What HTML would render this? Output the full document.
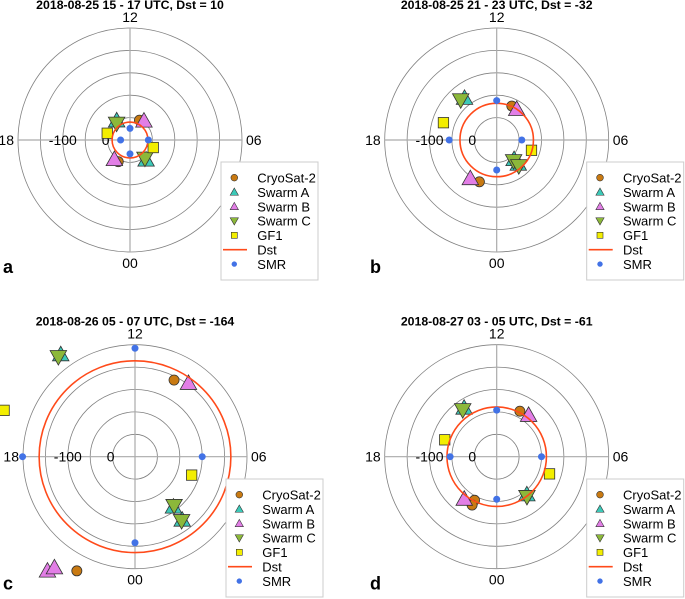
<!DOCTYPE html>
<html><head><meta charset="utf-8">
<style>
html,body{margin:0;padding:0;background:#fff;}
svg{display:block;font-family:"Liberation Sans",sans-serif;}
</style></head>
<body>
<svg id="fig" width="685" height="599" viewBox="0 0 685 599" xmlns="http://www.w3.org/2000/svg"></svg>
<script>
// ---- Data: each entry [MLT hour, value nT] ----
const panelTitles = ["2018-08-25 15 - 17 UTC, Dst = 10","2018-08-25 21 - 23 UTC, Dst = -32","2018-08-26 05 - 07 UTC, Dst = -164","2018-08-27 03 - 05 UTC, Dst = -61"];
const panelLetters = ["a","b","c","d"];
const dstValues = [10, -32, -164, -61];
const legendLabels = ["CryoSat-2","Swarm A","Swarm B","Swarm C","GF1","Dst","SMR"];
const mltTickLabels = ["12","06","00","18"];
const ringValueLabels = ["0","-100"];

const cryosatA = [[10.3,1],[22.1,-5]];
const swarmAA = [[14.3,-2.5],[2.6,-7]];
const swarmBA = [[9.6,-3],[21.4,-5.5]];
const swarmCA = [[14.6,2.5],[2.6,-3]];
const gf1A = [[16.9,-3],[4.8,-4.5]];
const smrA = [[12,24],[18,29],[6,9],[0,19]];

const cryosatB = [[10.4,-33],[22.5,-51]];
const swarmAB = [[14.5,-68],[2.8,-8],[2.8,-22]];
const swarmBB = [[9.8,-32],[21.7,-54]];
const swarmCB = [[14.8,-70],[2.6,-10],[2.7,-26]];
const gf1B = [[16.8,-75],[4.9,-31]];
const smrB = [[12,-38],[18,-56],[6,-6],[0,-17]];

const cryosatC = [[10.2,-142],[22.2,-236]];
const swarmAC = [[14.4,-232],[2.5,-91],[2.45,-126]];
const swarmBC = [[9.6,-153],[21.5,-271],[21.6,-256]];
const swarmCC = [[14.5,-231],[2.57,-90],[2.4,-127]];
const gf1C = [[16.7,-260],[4.8,-83]];
const smrC = [[12,-192],[18,-201],[6,-100],[0,-142]];

const cryosatD = [[10.2,-64],[22.2,-59],[22.2,-71]];
const swarmAD = [[14.25,-81],[2.57,-58]];
const swarmBD = [[9.5,-67],[21.5,-69]];
const swarmCD = [[14.4,-79],[2.47,-62]];
const gf1D = [[16.8,-72],[4.8,-74]];
const smrD = [[12,-54],[18,-54],[6,-50],[0,-45]];

const panelSeries = [
  [cryosatA,swarmAA,swarmBA,swarmCA,gf1A,smrA],
  [cryosatB,swarmAB,swarmBB,swarmCB,gf1B,smrB],
  [cryosatC,swarmAC,swarmBC,swarmCC,gf1C,smrC],
  [cryosatD,swarmAD,swarmBD,swarmCD,gf1D,smrD]
];

// ---- Layout ----
const centers = [[130,140],[496.7,140],[135,456.7],[496.7,456.7]];
const legendPos = [[221,162],[586.7,162],[226,479],[586.7,479]];
const ringStep = 22.4; // px per 50 nT
const colors = {cryo:"#c97a12",a:"#3cc9b8",b:"#e27ee6",c:"#8cb83a",gf:"#f3ee00",dst:"#ff4a1a",smr:"#4272e6"};
const NS="http://www.w3.org/2000/svg";
const svg=document.getElementById("fig");
function el(tag,attrs,parent){const e=document.createElementNS(NS,tag);for(const k in attrs)e.setAttribute(k,attrs[k]);(parent||svg).appendChild(e);return e;}
function rScale(v){return (50-v)/50*ringStep;}
function pos(cx,cy,mlt,v){const r=rScale(v);const phi=(12-mlt)*15*Math.PI/180;return [cx+r*Math.sin(phi),cy-r*Math.cos(phi)];}
function marker(g,type,x,y,s,sw){
  sw=sw||0.8;
  let m;
  if(type==="cryo"){m=el("circle",{cx:x,cy:y,r:s*0.42,fill:colors.cryo,stroke:"#333","stroke-width":sw},g);}
  else if(type==="a"||type==="b"){const c=colors[type];m=el("polygon",{points:`${x},${y-s*0.55} ${x+s*0.55},${y+s*0.42} ${x-s*0.55},${y+s*0.42}`,fill:c,stroke:"#333","stroke-width":sw},g);}
  else if(type==="c"){m=el("polygon",{points:`${x},${y+s*0.55} ${x+s*0.55},${y-s*0.42} ${x-s*0.55},${y-s*0.42}`,fill:colors.c,stroke:"#333","stroke-width":sw},g);}
  else if(type==="gf"){m=el("rect",{x:x-s*0.4,y:y-s*0.4,width:s*0.8,height:s*0.8,fill:colors.gf,stroke:"#333","stroke-width":sw},g);}
  else {m=el("circle",{cx:x,cy:y,r:s*0.27,fill:colors.smr},g);}
  return m;
}
const types=["cryo","a","b","c","gf"];
const typeNames=["cryosat-2","swarm-a","swarm-b","swarm-c","gf1"];
const legendSizes=[8,7.5,7.5,7.5,7.5];

for(let p=0;p<4;p++){
  const [cx,cy]=centers[p];
  const g=el("g",{});
  
  
  for(let i=1;i<=5;i++){
    const ring=el("circle",{cx:cx,cy:cy,r:i*ringStep,fill:"none",stroke:"#808080","stroke-width":0.8},g);
    
    
  }
  const R=5*ringStep;
  const ax1=el("line",{x1:cx-R,y1:cy,x2:cx+R,y2:cy,stroke:"#aaa","stroke-width":1.2},g);
  
  
  const ax2=el("line",{x1:cx,y1:cy-R,x2:cx,y2:cy+R,stroke:"#aaa","stroke-width":1.2},g);
  
  
  const t12=el("text",{x:cx,y:cy-R-6,"font-size":14,"text-anchor":"middle"},g);t12.textContent=mltTickLabels[0];
  
  
  const t06=el("text",{x:cx+R+4,y:cy+5,"font-size":14,"text-anchor":"start"},g);t06.textContent=mltTickLabels[1];
  
  
  const t00=el("text",{x:cx,y:cy+R+16,"font-size":14,"text-anchor":"middle"},g);t00.textContent=mltTickLabels[2];
  
  
  const t18=el("text",{x:cx-R-4,y:cy+5,"font-size":14,"text-anchor":"end"},g);t18.textContent=mltTickLabels[3];
  
  
  const r0=el("text",{x:cx-rScale(0)-2,y:cy+5,"font-size":14,"text-anchor":"middle"},g);r0.textContent=ringValueLabels[0];
  
  
  const r100=el("text",{x:cx-rScale(-100),y:cy+5,"font-size":14,"text-anchor":"middle"},g);r100.textContent=ringValueLabels[1];
  
  
  const tt=el("text",{x:cx,y:cy-131,"font-size":12.3,"font-weight":"bold","text-anchor":"middle"},g);tt.textContent=panelTitles[p];
  
  
  const lt=el("text",{x:p%2===0?3:370,y:cy+133,"font-size":18,"font-weight":"bold"},g);lt.textContent=panelLetters[p];
  
  
  const ser=panelSeries[p];
  for(let s=0;s<5;s++){
    for(const [mlt,v] of ser[s]){
      const [x,y]=pos(cx,cy,mlt,v);
      const m=marker(g,types[s],x,y,types[s]==="cryo"?12:(types[s]==="gf"?13:15));
      
      
    }
  }
  const dc=el("circle",{cx:cx,cy:cy,r:rScale(dstValues[p]),fill:"none",stroke:colors.dst,"stroke-width":1.6},g);
  
  
  for(const [mlt,v] of ser[5]){
    const [x,y]=pos(cx,cy,mlt,v);
    const m=marker(g,"smr",x,y,13);
    
    
  }
  const [lx,ly]=legendPos[p];
  const lg=el("g",{},g);
  
  
  el("rect",{x:lx,y:ly,width:Math.min(97,685-lx-0.5),height:118,fill:"#fff",stroke:"#ccc","stroke-width":1},lg);
  for(let i=0;i<7;i++){
    const yy=ly+15.7+i*14.4;
    const eg=el("g",{},lg);
    
    
    if(i<5) marker(eg,types[i],lx+13.3,yy,legendSizes[i],0.6);
    else if(i===5) el("line",{x1:lx+2,y1:yy,x2:lx+26,y2:yy,stroke:colors.dst,"stroke-width":1.6},eg);
    else marker(eg,"smr",lx+13.3,yy,10);
    const tx=el("text",{x:lx+36.3,y:yy+4.8,"font-size":13},eg);tx.textContent=legendLabels[i];
  }
}
</script>
</body></html>
